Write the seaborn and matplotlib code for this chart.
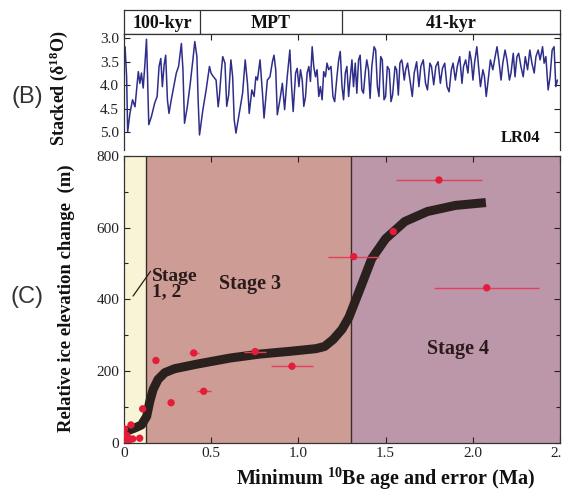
import numpy as np
import pandas as pd
import matplotlib
matplotlib.use("Agg")
import matplotlib.pyplot as plt
from matplotlib.ticker import MultipleLocator, FixedLocator
import seaborn as sns

# ---------------- data ----------------
# Panel B: LR04 stacked benthic d18O
lr04_age = [0.006, 0.015, 0.021, 0.034, 0.049, 0.063, 0.072, 0.082, 0.091, 0.100,
            0.110, 0.119, 0.129, 0.135, 0.142, 0.157, 0.176, 0.190, 0.201, 0.211,
            0.220, 0.230, 0.239, 0.249, 0.258, 0.271, 0.285, 0.300, 0.313, 0.329,
            0.338, 0.347, 0.363, 0.380, 0.395, 0.406, 0.418, 0.425, 0.433, 0.452,
            0.471, 0.490, 0.499, 0.513, 0.528, 0.540, 0.547, 0.557, 0.566, 0.579,
            0.589, 0.600, 0.613, 0.623, 0.632, 0.642, 0.661, 0.680, 0.695, 0.708,
            0.718, 0.733, 0.746, 0.756, 0.765, 0.780, 0.794, 0.803, 0.822, 0.837,
            0.851, 0.860, 0.870, 0.879, 0.894, 0.908, 0.921, 0.936, 0.951, 0.961,
            0.970, 0.984, 0.993, 1.003, 1.012, 1.022, 1.031, 1.041, 1.050, 1.060,
            1.069, 1.079, 1.088, 1.098, 1.107, 1.117, 1.126, 1.136, 1.145, 1.155,
            1.164, 1.174, 1.187, 1.198, 1.208, 1.221, 1.231, 1.240, 1.250, 1.259,
            1.269, 1.278, 1.288, 1.297, 1.307, 1.316, 1.326, 1.335, 1.345, 1.354,
            1.364, 1.373, 1.383, 1.392, 1.402, 1.411, 1.421, 1.434, 1.443, 1.453,
            1.462, 1.472, 1.481, 1.491, 1.500, 1.510, 1.521, 1.531, 1.540, 1.554,
            1.563, 1.573, 1.582, 1.592, 1.596, 1.607, 1.615, 1.626, 1.640, 1.653,
            1.664, 1.678, 1.691, 1.702, 1.716, 1.729, 1.740, 1.754, 1.763, 1.776,
            1.788, 1.801, 1.814, 1.826, 1.839, 1.852, 1.864, 1.877, 1.887, 1.900,
            1.911, 1.925, 1.938, 1.947, 1.959, 1.972, 1.982, 1.991, 2.001, 2.010,
            2.023, 2.033, 2.044, 2.058, 2.067, 2.077, 2.086, 2.101, 2.115, 2.128,
            2.139, 2.149, 2.162, 2.172, 2.185, 2.196, 2.210, 2.219, 2.232, 2.242,
            2.253, 2.263, 2.276, 2.289, 2.301, 2.314, 2.327, 2.339, 2.352, 2.362,
            2.375, 2.386, 2.400, 2.409, 2.419, 2.432, 2.443, 2.455, 2.466, 2.476,
            2.485]
lr04_d18o = [3.18, 3.82, 4.99, 4.60, 4.31, 4.46, 4.10, 3.71, 3.96, 3.74,
             4.06, 3.60, 3.02, 3.82, 4.84, 4.67, 4.38, 4.24, 3.60, 3.43,
             4.03, 3.57, 3.36, 4.31, 4.60, 4.31, 4.03, 3.74, 3.60, 3.11,
             3.67, 4.81, 4.46, 3.96, 3.46, 3.07, 3.39, 4.31, 5.06, 4.53,
             4.10, 3.60, 3.74, 3.82, 3.89, 4.46, 4.24, 3.74, 3.39, 3.53,
             4.45, 4.21, 3.46, 3.82, 4.74, 5.02, 4.60, 4.17, 3.46, 3.96,
             4.60, 4.10, 4.24, 3.82, 3.89, 3.46, 4.17, 4.70, 3.89, 3.82,
             3.50, 3.36, 3.67, 4.63, 4.31, 3.96, 4.52, 3.82, 3.25, 4.03,
             4.56, 3.74, 3.64, 4.03, 3.67, 3.89, 4.45, 4.24, 3.74, 3.60,
             3.92, 3.18, 3.60, 3.82, 3.67, 4.24, 4.03, 4.31, 3.71, 3.82,
             3.53, 3.67, 3.60, 4.24, 4.35, 3.82, 3.46, 3.28, 4.03, 4.31,
             3.74, 3.60, 4.24, 3.85, 3.46, 4.03, 3.53, 4.17, 3.46, 3.36,
             4.10, 4.17, 3.74, 3.46, 3.67, 4.28, 3.60, 3.18, 3.25, 4.03,
             4.24, 3.39, 3.46, 4.31, 4.24, 3.60, 3.67, 4.35, 4.21, 3.60,
             3.67, 4.21, 3.53, 3.46, 3.53, 3.89, 3.67, 3.53, 3.89, 4.24,
             3.74, 3.50, 4.03, 3.60, 3.46, 3.96, 4.10, 3.53, 3.60, 3.99,
             3.60, 3.50, 3.96, 3.64, 3.53, 4.03, 4.14, 3.67, 3.53, 3.89,
             3.60, 3.39, 3.96, 3.60, 3.46, 3.74, 3.28, 3.46, 3.89, 3.53,
             3.18, 3.60, 4.03, 3.67, 3.82, 4.24, 3.96, 3.46, 3.67, 3.39,
             3.18, 3.46, 3.89, 3.53, 3.25, 3.46, 3.89, 3.74, 3.32, 3.82,
             3.39, 3.32, 3.60, 3.82, 3.39, 3.67, 3.25, 3.53, 3.74, 3.39,
             3.25, 3.46, 3.18, 3.53, 3.39, 4.10, 3.82, 3.25, 3.18, 4.03,
             3.89]

# Header bands of panel B
regime_labels = ["100-kyr", "MPT", "41-kyr"]
regime_edges = [0.0, 0.437, 1.25, 2.5]

# Panel C: model curve of relative ice elevation change
curve_age = [0.005, 0.06, 0.10, 0.13, 0.148, 0.167, 0.195, 0.234, 0.29, 0.42,
             0.61, 0.78, 0.96, 1.10, 1.15, 1.20, 1.25, 1.29, 1.36, 1.42,
             1.50, 1.61, 1.74, 1.90, 2.075]
curve_elev = [30, 40, 49, 73, 115, 148, 176, 195, 206, 219,
              236, 247, 255, 262, 268, 288, 316, 350, 437, 513,
              569, 617, 645, 662, 670]

# Panel C: minimum 10Be ages with errors
be_age = [1.806, 1.317, 1.544, 2.08, 0.752, 0.963, 0.183, 0.40, 0.457, 0.27,
          0.107, 0.04, 0.003, 0.09, 0.05, 0.01, 0.02, 0.005, 0.03, 0.015, 0.025]
be_elev = [733, 519, 589, 432, 254, 213, 229, 250, 143, 111,
           94, 49, 38, 12, 10, 5, 15, 0, 8, 20, 2]
be_err = [0.245, 0.145, 0.0, 0.30, 0.065, 0.12, 0.0, 0.03, 0.04, 0.0,
          0.0, 0.0, 0.0, 0.0, 0.0, 0.0, 0.0, 0.0, 0.0, 0.0, 0.0]

# Stage boundaries (Ma)
stage_edges = [0.0, 0.125, 1.30, 2.5]
stage_colors = ["#f8f5d6", "#cd9d95", "#bc96a9"]

# ---------------- style ----------------
sns.set_theme(style="ticks")
plt.rcParams["font.family"] = ["Liberation Serif", "DejaVu Serif"]
plt.rcParams["mathtext.fontset"] = "custom"
plt.rcParams["mathtext.rm"] = "Liberation Serif:bold"
plt.rcParams["mathtext.bf"] = "Liberation Serif:bold"
plt.rcParams["mathtext.it"] = "Liberation Serif:bold"

fig = plt.figure(figsize=(5.62, 4.91), dpi=100)
L, W = 124 / 562, 436 / 562
ax_h = fig.add_axes([L, 1 - 34.3 / 491, W, 24.3 / 491])
ax_b = fig.add_axes([L, 1 - 150 / 491, W, 115.7 / 491])
ax_c = fig.add_axes([L, 1 - 442.5 / 491, W, 286.5 / 491])

tick_kw = dict(direction="in", length=4, width=0.8, color="#222222",
               labelsize=11, labelcolor="#222222")

# ---------------- header ----------------
ax_h.set_xlim(0, 2.5)
ax_h.set_ylim(0, 1)
ax_h.set_xticks([])
ax_h.set_yticks([])
for e in regime_edges[1:-1]:
    ax_h.axvline(e, color="#333333", lw=0.9)
for i, lab in enumerate(regime_labels):
    ax_h.text((regime_edges[i] + regime_edges[i + 1]) / 2, 0.45, lab,
              ha="center", va="center", fontsize=13, fontweight="bold",
              color="#111111")
for s in ax_h.spines.values():
    s.set_linewidth(0.9)
    s.set_color("#333333")

# ---------------- panel B ----------------
sns.lineplot(x=lr04_age, y=lr04_d18o, sort=False, estimator=None,
             color="#2e2e8a", lw=1.1, ax=ax_b)
ax_b.set_xlim(0, 2.5)
ax_b.set_ylim(5.38, 2.915)
ax_b.yaxis.set_major_locator(FixedLocator([3.0, 3.5, 4.0, 4.5, 5.0]))
ax_b.set_yticklabels(["3.0", "3.5", "4.0", "4.5", "5.0"])
ax_b.xaxis.set_major_locator(MultipleLocator(0.5))
ax_b.tick_params(axis="both", which="both", top=True, bottom=False,
                 right=True, labelbottom=False, **tick_kw)
ax_b.spines["bottom"].set_visible(False)
for s in ["left", "right", "top"]:
    ax_b.spines[s].set_linewidth(0.9)
    ax_b.spines[s].set_color("#333333")
ax_b.set_ylabel(r"Stacked ($\mathbf{\delta}^{18}$O)", fontsize=13,
                fontweight="bold", color="#111111")
ax_b.yaxis.set_label_coords(-0.124, 0.536)
ax_b.text(2.385, 5.12, "LR04", ha="right", va="center", fontsize=12,
          fontweight="bold", color="#111111")

# ---------------- panel C ----------------
for i in range(3):
    ax_c.axvspan(stage_edges[i], stage_edges[i + 1], color=stage_colors[i],
                 lw=0, zorder=0)
for e in stage_edges[1:-1]:
    ax_c.axvline(e, color="#3a2c2c", lw=1.0, zorder=1)

sns.lineplot(x=curve_age, y=curve_elev, sort=False, estimator=None,
             color="#2a211f", lw=6.5, ax=ax_c, zorder=3,
             solid_capstyle="butt", solid_joinstyle="round")
ax_c.errorbar(be_age, be_elev, xerr=be_err, fmt="none", ecolor="#e2405a",
              elinewidth=1.0, capsize=0, zorder=4)
sns.scatterplot(x=be_age, y=be_elev, color="#e31c3a", s=28, edgecolor="none",
                ax=ax_c, zorder=5)

ax_c.set_xlim(0, 2.5)
ax_c.set_ylim(0, 800)
ax_c.xaxis.set_major_locator(FixedLocator([0, 0.5, 1.0, 1.5, 2.0, 2.5]))
ax_c.set_xticklabels(["0", "0.5", "1.0", "1.5", "2.0", "2.5"])
ax_c.yaxis.set_major_locator(MultipleLocator(200))
ax_c.yaxis.set_minor_locator(MultipleLocator(100))
ax_c.tick_params(axis="both", which="both", top=True, right=True, **tick_kw)
ax_c.tick_params(axis="y", which="minor", length=3)
for s in ax_c.spines.values():
    s.set_linewidth(0.9)
    s.set_color("#333333")

ax_c.set_ylabel("Relative ice elevation change  (m)", fontsize=13.5,
                fontweight="bold", color="#111111")
ax_c.yaxis.set_label_coords(-0.112, 0.504)
ax_c.set_xlabel(r"Minimum $^{\mathbf{10}}$Be age and error (Ma)", fontsize=14.5,
                fontweight="bold", color="#111111")
ax_c.xaxis.set_label_coords(0.6, -0.082)

ax_c.text(0.72, 443, "Stage 3", ha="center", va="center", fontsize=14.5,
          fontweight="bold", color="#2a1a1a")
ax_c.text(1.915, 260, "Stage 4", ha="center", va="center", fontsize=14.5,
          fontweight="bold", color="#2a1a1a")
ax_c.text(0.16, 443, "Stage\n1, 2", ha="left", va="center", fontsize=14,
          fontweight="bold", color="#2a1a1a", linespacing=0.9)
ax_c.plot([0.052, 0.152], [409, 478], color="#2a1a1a", lw=0.9, zorder=6)

# panel letters
fig.text(0.048, 1 - 97 / 491, "(B)", ha="center", va="center", fontsize=17,
         family=["Liberation Sans", "DejaVu Sans"], color="#333333")
fig.text(0.048, 1 - 297 / 491, "(C)", ha="center", va="center", fontsize=17,
         family=["Liberation Sans", "DejaVu Sans"], color="#333333")

fig.savefig("out.png", dpi=100, facecolor="white")
